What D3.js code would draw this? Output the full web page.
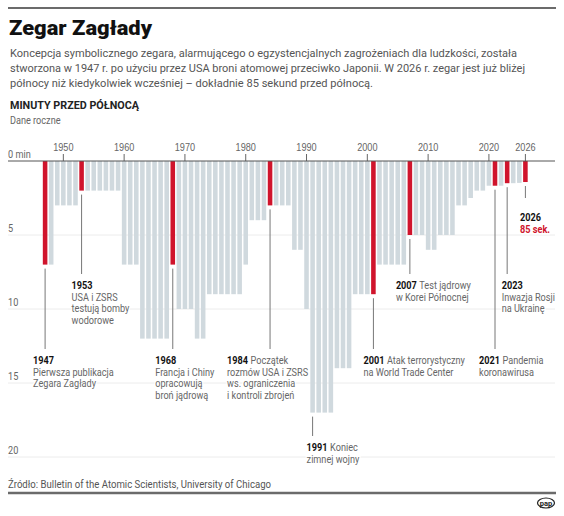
<!DOCTYPE html>
<html>
<head>
<meta charset="utf-8">
<script src="https://cdn.jsdelivr.net/npm/d3@7"></script>
<style>
  body { margin: 0; background: #fff; }
  svg { display: block; font-family: Roboto, "Noto Sans", sans-serif; }
</style>
</head>
<body>
<div id="chart"></div>
<script>
// Zegar Zagłady - minuty przed północą, dane roczne 1947-2026
const firstYear = 1947, lastYear = 2026;
const years = d3.range(firstYear, lastYear + 1);

// value per year in minutes (100 s = 1.67, 90 s = 1.5, 89 s = 1.48, 85 s = 1.42)
const minutes = [
  7, 7, 3, 3, 3, 3, 2, 2, 2, 2,        // 1947-1956
  2, 2, 2, 7, 7, 7, 12, 12, 12, 12,    // 1957-1966
  12, 7, 10, 10, 10, 12, 12, 9, 9, 9,  // 1967-1976
  9, 9, 9, 7, 4, 4, 4, 3, 3, 3,        // 1977-1986
  3, 6, 6, 10, 17, 17, 17, 17, 14, 14, // 1987-1996
  14, 9, 9, 9, 9, 7, 7, 7, 7, 7,       // 1997-2006
  5, 5, 5, 6, 6, 5, 5, 5, 3, 3,        // 2007-2016
  2.5, 2, 2, 1.67, 1.67, 1.67, 1.5, 1.5, 1.48, 1.42 // 2017-2026
];

const highlightYears = [1947, 1953, 1968, 1984, 2001, 2007, 2021, 2023, 2026];

const xTickYears = [1950, 1960, 1970, 1980, 1990, 2000, 2010, 2020, 2026];
const yTicks = [0, 5, 10, 15, 20];
const yTickLabels = ["0 min", "5", "10", "15", "20"];

// annotations
const noteYears = [1947, 1953, 1968, 1984, 1991, 2001, 2007, 2021, 2023, 2026];
const noteLead = ["", "", "", "Początek", "Koniec", "Atak terrorystyczny", "Test jądrowy", "Pandemia", "", ""];
const noteLines = [
  ["Pierwsza publikacja", "Zegara Zagłady"],
  ["USA i ZSRS", "testują bomby", "wodorowe"],
  ["Francja i Chiny", "opracowują", "broń jądrową"],
  ["rozmów USA i ZSRS", "ws. ograniczenia", "i kontroli zbrojeń"],
  ["zimnej wojny"],
  ["na World Trade Center"],
  ["w Korei Północnej"],
  ["koronawirusa"],
  ["Inwazja Rosji", "na Ukrainę"],
  ["85 sek."]
];

const title = "Zegar Zagłady";
const subtitle = [
  "Koncepcja symbolicznego zegara, alarmującego o egzystencjalnych zagrożeniach dla ludzkości, została",
  "stworzona w 1947 r. po użyciu przez USA broni atomowej przeciwko Japonii. W 2026 r. zegar jest już bliżej",
  "północy niż kiedykolwiek wcześniej – dokładnie 85 sekund przed północą."
];
const source = "Źródło: Bulletin of the Atomic Scientists, University of Chicago";

// layout of the annotation labels (text offset from bar, baseline, end of leader line)
const noteLayout = {
  1947: { dx: -12, y: 364, lineEnd: 349 },
  1953: { dx: -10, y: 289, lineEnd: 274 },
  1968: { dx: -17.5, y: 364, lineEnd: 349 },
  1984: { dx: -43, y: 364, lineEnd: 349 },
  1991: { dx: -6, y: 451, lineEnd: 436 },
  2001: { dx: -10, y: 364, lineEnd: 349 },
  2007: { dx: -14, y: 289, lineEnd: 274 },
  2021: { dx: -16, y: 364, lineEnd: 349 },
  2023: { dx: -5.5, y: 289, lineEnd: 274 },
  2026: { dx: -5.4, y: 221, lineEnd: 198, red: true }
};

const width = 564, height = 516;
const left = 8, right = 555;
const grey = "#d0d9de", red = "#d0142c";
const SQUEEZE = 0.87;

const svg = d3.select("#chart").append("svg")
  .attr("width", width)
  .attr("height", height);

// narrow the glyphs a bit, the original font is condensed
function condense(sel, k) {
  sel.each(function() {
    const w = this.getComputedTextLength();
    d3.select(this).attr("textLength", w * k).attr("lengthAdjust", "spacingAndGlyphs");
  });
}
function fitTo(sel, w) {
  sel.attr("textLength", w).attr("lengthAdjust", "spacingAndGlyphs");
}

// header
svg.append("line")
  .attr("x1", left).attr("x2", right + 1)
  .attr("y1", 8).attr("y2", 8)
  .attr("stroke", "#6b6b6b").attr("stroke-width", 2);

svg.append("text")
  .attr("x", 9).attr("y", 35)
  .attr("font-size", 21).attr("font-weight", 900)
  .attr("fill", "#111")
  .text(title)
  .call(fitTo, 143);

const subWidths = [507, 515, 363];
subtitle.forEach((line, i) => {
  svg.append("text")
    .attr("x", 10).attr("y", 57 + i * 15)
    .attr("font-size", 11.5)
    .attr("fill", "#555")
    .text(line)
    .call(fitTo, subWidths[i]);
});

svg.append("text")
  .attr("x", 10).attr("y", 109)
  .attr("font-size", 11.5).attr("font-weight", 700)
  .attr("fill", "#222")
  .text("MINUTY PRZED PÓŁNOCĄ")
  .call(fitTo, 129);

svg.append("text")
  .attr("x", 10).attr("y", 124)
  .attr("font-size", 10.5)
  .attr("fill", "#666")
  .text("Dane roczne")
  .call(condense, SQUEEZE);

// scales
const x = d3.scaleBand()
  .domain(years)
  .range([42.06, 528.44])
  .paddingInner(0.25)
  .paddingOuter(0.125);

const y = d3.scaleLinear()
  .domain([0, 20])
  .range([161, 457]);

const cx = yr => x(yr) + x.bandwidth() / 2;

// gridlines and y labels
svg.append("g").selectAll("line")
  .data(yTicks.slice(1))
  .enter().append("line")
  .attr("x1", left).attr("x2", right)
  .attr("y1", d => y(d)).attr("y2", d => y(d))
  .attr("stroke", "#ececec");

svg.append("g").selectAll("text")
  .data(yTicks)
  .enter().append("text")
  .attr("x", left)
  .attr("y", d => y(d) - 3)
  .attr("font-size", 10.5)
  .attr("fill", "#666")
  .text((d, i) => yTickLabels[i])
  .call(condense, SQUEEZE);

// bars
svg.append("g").selectAll("rect")
  .data(years)
  .enter().append("rect")
  .attr("x", d => x(d))
  .attr("y", y(0))
  .attr("width", x.bandwidth())
  .attr("height", (d, i) => y(minutes[i]) - y(0))
  .attr("fill", d => highlightYears.includes(d) ? red : grey);

// top axis with years
const xAxis = svg.append("g")
  .attr("transform", `translate(0,${y(0)})`)
  .call(d3.axisTop(x).tickValues(xTickYears).tickSize(7).tickPadding(3));
xAxis.select(".domain").remove();
xAxis.selectAll(".tick line").attr("stroke", "#666");
xAxis.selectAll(".tick text")
  .attr("font-family", null)
  .attr("font-size", 10.5)
  .attr("fill", "#666")
  .call(condense, SQUEEZE);

svg.append("line")
  .attr("x1", left).attr("x2", right)
  .attr("y1", y(0)).attr("y2", y(0))
  .attr("stroke", "#555").attr("stroke-width", 1);

// annotations
const notes = svg.append("g");
noteYears.forEach((yr, i) => {
  const lay = noteLayout[yr];
  const v = minutes[years.indexOf(yr)];
  const bx = cx(yr);

  notes.append("line")
    .attr("x1", bx).attr("x2", bx)
    .attr("y1", y(v) + 4).attr("y2", lay.lineEnd)
    .attr("stroke", "#777").attr("stroke-width", 1);

  const tx = bx + lay.dx;
  const yearText = notes.append("text")
    .attr("x", tx).attr("y", lay.y)
    .attr("font-size", 10.5).attr("font-weight", 700)
    .attr("fill", "#111")
    .attr("stroke", "#fff").attr("stroke-width", 3)
    .attr("paint-order", "stroke")
    .text(yr)
    .call(condense, SQUEEZE);

  if (noteLead[i]) {
    const yw = +yearText.attr("textLength");
    notes.append("text")
      .attr("x", tx + yw + 2.5).attr("y", lay.y)
      .attr("font-size", 10.5)
      .attr("fill", "#666")
      .attr("stroke", "#fff").attr("stroke-width", 3)
      .attr("paint-order", "stroke")
      .text(noteLead[i])
      .call(condense, SQUEEZE);
  }
  noteLines[i].forEach((line, j) => {
    notes.append("text")
      .attr("x", tx).attr("y", lay.y + (j + 1) * 11.5)
      .attr("font-size", 10.5)
      .attr("font-weight", lay.red ? 700 : 400)
      .attr("fill", lay.red ? red : "#666")
      .attr("stroke", "#fff").attr("stroke-width", 3)
      .attr("paint-order", "stroke")
      .text(line)
      .call(condense, SQUEEZE);
  });
});

// footer
svg.append("text")
  .attr("x", left).attr("y", 488)
  .attr("font-size", 11)
  .attr("fill", "#555")
  .text(source)
  .call(fitTo, 263);

svg.append("line")
  .attr("x1", left).attr("x2", right + 1)
  .attr("y1", 493).attr("y2", 493)
  .attr("stroke", "#6b6b6b").attr("stroke-width", 2.5);

const logo = svg.append("g").attr("transform", "translate(546,503)");
logo.append("ellipse")
  .attr("rx", 8.5).attr("ry", 5)
  .attr("fill", "#fff").attr("stroke", "#222").attr("stroke-width", 1.2);
logo.append("text")
  .attr("y", 2.5)
  .attr("text-anchor", "middle")
  .attr("font-size", 7.5).attr("font-weight", 700)
  .attr("fill", "#222")
  .text("pap");
</script>
</body>
</html>
